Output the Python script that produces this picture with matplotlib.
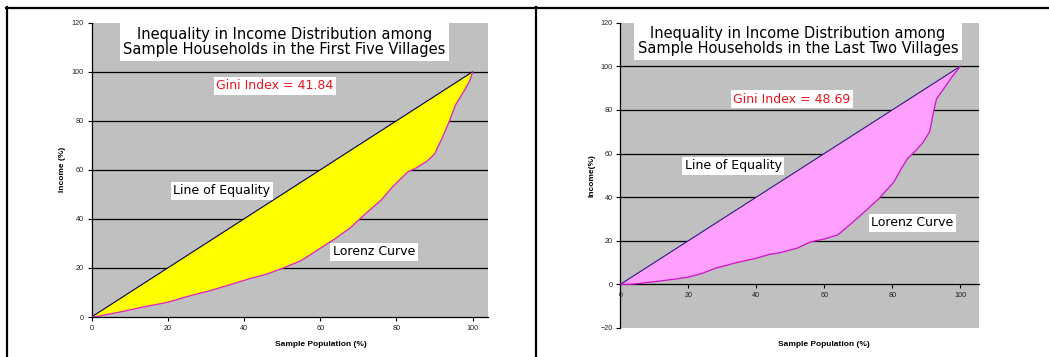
import matplotlib
matplotlib.use("Agg")
import matplotlib.pyplot as plt
from matplotlib.lines import Line2D
import numpy as np

# ---------------- data ----------------
eq_x = [0, 100]
eq_y = [0, 100]

left_lx = [0, 1, 8, 13, 20, 25, 31, 36, 41, 46, 50, 55, 58, 64, 68, 71, 76, 79,
           83, 85, 88, 90, 92, 94, 95.5, 97.6, 99.3, 100]
left_ly = [0, 0.1, 2.2, 3.9, 6.0, 8.3, 10.7, 13, 15.4, 17.5, 19.8, 23, 26, 32,
           36.5, 40.9, 47.7, 53.1, 59.2, 60.6, 63.5, 66.5, 73, 80.3, 86.5, 91.8,
           96.6, 100]

right_lx = [0, 3, 10, 17, 20, 24, 28, 34, 40, 44, 47, 52, 56, 60, 64, 68, 72,
            76, 80.5, 82.5, 84.5, 86.7, 89, 91, 92, 93, 95.5, 97.5, 100]
right_ly = [0, 0, 1.2, 2.6, 3.3, 5, 7.4, 9.9, 12, 13.8, 14.5, 16.6, 19.5, 20.8,
            22.7, 28, 33.5, 39.2, 47, 52.7, 57.7, 61, 65, 70, 78, 85, 90.5, 95,
            100]

xticks = [0, 20, 40, 60, 80, 100]
left_yticks = [0, 20, 40, 60, 80, 100, 120]
right_yticks = [-20, 0, 20, 40, 60, 80, 100, 120]

left_title = "Inequality in Income Distribution among\nSample Households in the First Five Villages"
right_title = "Inequality in Income Distribution among\nSample Households in the Last Two Villages"
left_gini = "Gini Index = 41.84"
right_gini = "Gini Index = 48.69"
xlabel = "Sample Population (%)"
left_ylabel = "Income (%)"
right_ylabel = "Income(%)"

# ---------------- figure ----------------
W, H = 1049, 357
fig = plt.figure(figsize=(W / 100, H / 100), dpi=100)
fig.patch.set_facecolor("white")

def px_axes(l, t, r, b):
    return fig.add_axes([l / W, 1 - b / H, (r - l) / W, (b - t) / H])

axL = px_axes(91.5, 22.7, 488.3, 317.0)
axR = px_axes(620.3, 22.7, 979.3, 328.0)

tick_font = dict(family="Liberation Sans", size=5.2)
lab_font = dict(family="Liberation Sans", size=6, weight="bold")

def style(ax, xlim, ylim, yticks, fill_c, eq_c, lor_c, lx, ly, title, gini,
          title_xy, gini_xy, leq_xy, lor_xy, ylabel, ylab_x, xlab_x, xlab_y):
    ax.set_facecolor("#C0C0C0")
    ax.set_xlim(*xlim)
    ax.set_ylim(*ylim)
    ax.set_xticks(xticks)
    ax.set_yticks(yticks)
    for s in ("top", "right"):
        ax.spines[s].set_visible(False)
    ax.spines["bottom"].set_position(("data", 0))
    for s in ("left", "bottom"):
        ax.spines[s].set_color("black")
        ax.spines[s].set_linewidth(0.9)
    ax.tick_params(direction="out", length=2.6, width=0.8, colors="black")
    ax.tick_params(axis="y", pad=3)
    ax.tick_params(axis="x", pad=3)
    for lbl in ax.get_xticklabels() + ax.get_yticklabels():
        lbl.set_fontfamily(tick_font["family"])
        lbl.set_fontsize(tick_font["size"])
        lbl.set_color("#222222")
    # gridlines at interior ticks (not at 0 axis, not at top)
    for v in yticks:
        if 0 < v < ylim[1]:
            ax.axhline(v, color="black", lw=0.9, zorder=1)
    # fill between equality line and Lorenz curve
    px = np.concatenate([np.array(eq_x, float), np.array(lx, float)[::-1]])
    py = np.concatenate([np.array(eq_y, float), np.array(ly, float)[::-1]])
    ax.fill(px, py, color=fill_c, zorder=2, lw=0)
    ax.plot(eq_x, eq_y, color=eq_c, lw=0.8, zorder=3)
    ax.plot(lx, ly, color=lor_c, lw=0.9, zorder=3)
    # texts
    ax.text(*title_xy, title, ha="center", va="center", fontsize=10.5,
            family="DejaVu Sans", linespacing=1.0, zorder=5,
            bbox=dict(fc="white", ec="none", boxstyle="square,pad=0.25"))
    ax.text(*gini_xy, gini, ha="center", va="center", fontsize=9,
            family="DejaVu Sans", color="#E8141E", zorder=5,
            bbox=dict(fc="white", ec="none", boxstyle="square,pad=0.2"))
    ax.text(*leq_xy, "Line of Equality", ha="center", va="center", fontsize=9,
            family="DejaVu Sans", zorder=5,
            bbox=dict(fc="white", ec="none", boxstyle="square,pad=0.2"))
    ax.text(*lor_xy, "Lorenz Curve", ha="center", va="center", fontsize=9,
            family="DejaVu Sans", zorder=5,
            bbox=dict(fc="white", ec="none", boxstyle="square,pad=0.2"))
    ax.set_ylabel(ylabel, **lab_font)
    ax.yaxis.set_label_coords(ylab_x, 0.5)
    ax.set_xlabel(xlabel, **lab_font)
    ax.xaxis.set_label_coords(xlab_x, xlab_y)

# left panel
style(axL, (0, 104.1), (0, 120), left_yticks, "#FFFF00", "#000050", "#E020C0",
      left_lx, left_ly, left_title, left_gini,
      (50.6, 112.1), (48.1, 94.2), (34.2, 51.4), (74.1, 26.7),
      left_ylabel, (66 - 91.5) / 396.8, (320.5 - 91.5) / 396.8,
      1 - (341.3 - 22.7) / 294.3)

# right panel
style(axR, (0, 105.6), (-20, 120), right_yticks, "#FFA0FF", "#2A1A80", "#D010C8",
      right_lx, right_ly, right_title, right_gini,
      (52.3, 111.4), (50.5, 84.8), (33.2, 54.3), (85.9, 28.3),
      right_ylabel, (595 - 620.3) / 359.0, (823.8 - 620.3) / 359.0,
      1 - (340.7 - 22.7) / 305.3)

# frame lines (in figure pixels)
def fline(x0, y0, x1, y1):
    fig.add_artist(Line2D([x0 / W, x1 / W], [1 - y0 / H, 1 - y1 / H],
                          color="black", lw=1.6, transform=fig.transFigure))

fline(6, 7.5, 1049, 7.5)
fline(6.5, 7, 6.5, 357)
fline(535.5, 7, 535.5, 357)

fig.savefig("out.png", dpi=100, facecolor="white")
